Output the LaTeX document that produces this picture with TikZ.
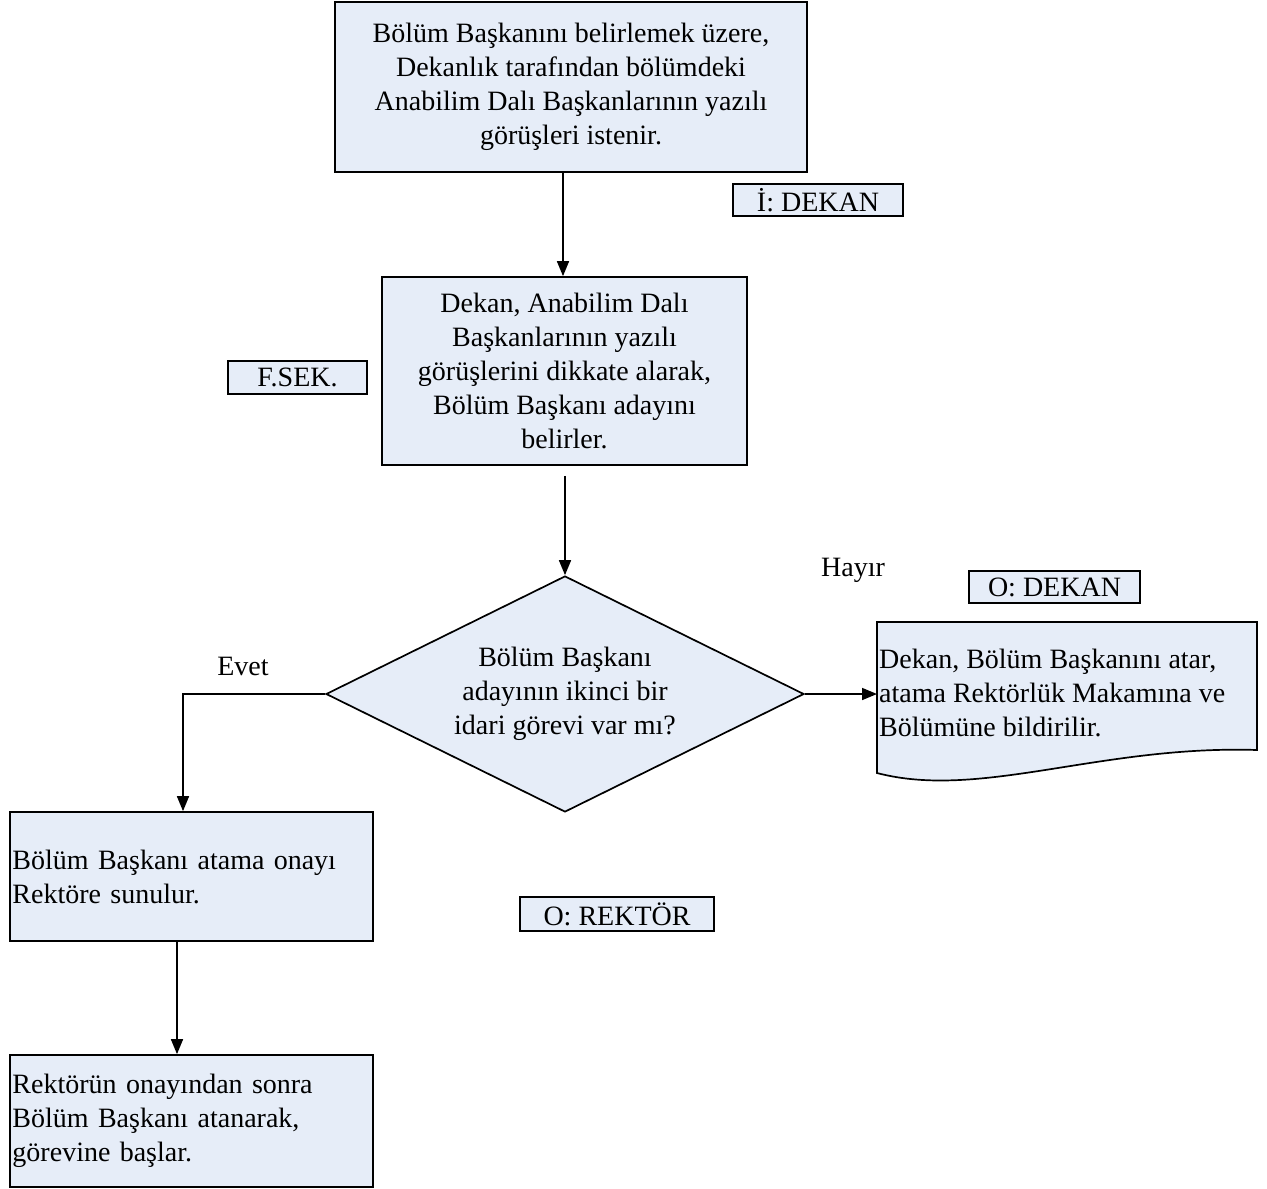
\documentclass[tikz,border=0pt]{standalone}
\usepackage{fontspec}
\setmainfont{Liberation Serif}
\usetikzlibrary{shapes.geometric,arrows.meta}
\definecolor{boxfill}{RGB}{230,237,248}
\begin{document}
\begin{tikzpicture}[x=1pt,y=-1pt,
  every node/.style={font=\fontsize{28}{34}\selectfont},
  procbox/.style={draw,line width=1.7pt,fill=boxfill,inner sep=2pt},
  tagbox/.style={draw,line width=1.7pt,fill=boxfill,inner sep=0pt,
     font=\fontsize{28}{30}\selectfont},
  flow/.style={line width=1.6pt,-{Triangle[length=15pt,width=12pt]}},
]
\useasboundingbox (0,0) rectangle (1267,1189);

\node[procbox,minimum width=472pt,minimum height=170pt,align=center] (top) at (571,87)
  {Bölüm Başkanını belirlemek üzere,\\Dekanlık tarafından bölümdeki\\Anabilim Dalı Başkanlarının yazılı\\görüşleri istenir.};
\node[tagbox,minimum width=170pt,minimum height=32pt] (idekan) at (818,200) {İ: DEKAN};

\node[procbox,minimum width=365pt,minimum height=188pt,align=center] (second) at (564.5,371)
  {Dekan, Anabilim Dalı\\Başkanlarının yazılı\\görüşlerini dikkate alarak,\\Bölüm Başkanı adayını\\belirler.};
\node[tagbox,minimum width=139pt,minimum height=33pt] (fsek) at (297.5,377.5) {F.SEK.};

\node[diamond,draw,line width=1.7pt,fill=boxfill,inner sep=0pt,aspect=2.025,
  minimum width=478pt,minimum height=236pt,align=center] (dec) at (565,694)
  {Bölüm Başkanı\\adayının ikinci bir\\idari görevi var mı?};

\node (hayir) at (853,570) {Hayır};
\node (evet) at (243,666) {Evet};

\node[tagbox,minimum width=171pt,minimum height=32pt] (odekan) at (1054.5,587) {O: DEKAN};

% document shape
\draw[line width=1.7pt,fill=boxfill] (877,622) -- (1257,622) -- (1257,750)
  .. controls (1100,745) and (980,800) .. (877,773) -- cycle;
\coordinate (docl) at (877,694);
\node[anchor=west,align=left,inner sep=0pt] (doctext) at (879,693)
  {Dekan, Bölüm Başkanını atar,\\atama Rektörlük Makamına ve\\Bölümüne bildirilir.};

\node[procbox,minimum width=363pt,minimum height=129pt,text width=358pt,align=left,inner sep=1pt] (third) at (191.5,876.5)
  {Bölüm Başkanı atama onayı\\Rektöre sunulur.};
\node[tagbox,minimum width=194pt,minimum height=34pt] (orektor) at (617,914) {O: REKTÖR};

\node[procbox,minimum width=363pt,minimum height=132pt,text width=358pt,align=left,inner sep=1pt] (fourth) at (191.5,1121)
  {Rektörün onayından sonra\\Bölüm Başkanı atanarak,\\görevine başlar.};

% connectors
\draw[flow] ([xshift=-8pt]top.south) -- ([xshift=-1.5pt]second.north);
\draw[flow,shorten <=10pt] ([xshift=0.5pt]second.south) -- (dec.north);
\draw[flow] (dec.west) -| ([xshift=-8.5pt]third.north);
\draw[flow] (dec.east) -- (docl);
\draw[flow] ([xshift=-14.5pt]third.south) -- ([xshift=-14.5pt]fourth.north);
\end{tikzpicture}
\end{document}
